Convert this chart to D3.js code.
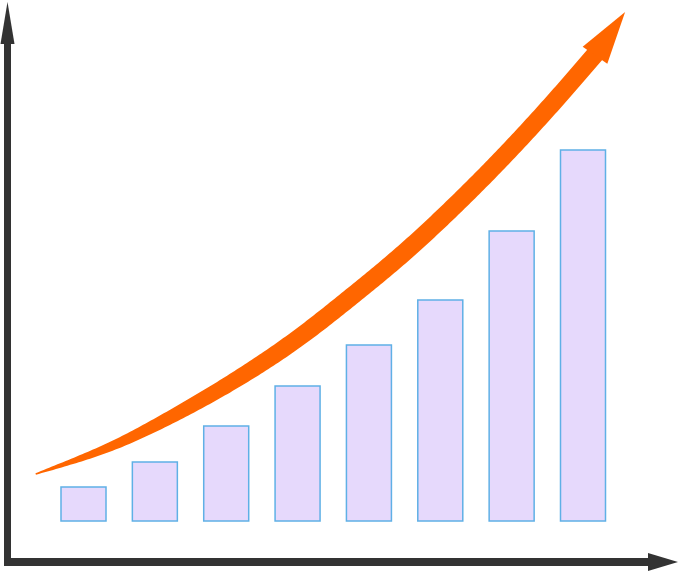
<!DOCTYPE html>
<html>
<head>
<meta charset="utf-8">
<script src="https://cdn.jsdelivr.net/npm/d3@7/dist/d3.min.js"></script>
<style>
  html, body { margin: 0; padding: 0; background: #ffffff; }
  svg { display: block; }
</style>
</head>
<body>
<svg id="chart" width="679" height="572"></svg>
<script>
// ---- data ----
const categories = [1, 2, 3, 4, 5, 6, 7, 8];
const values = [34, 59, 95, 135, 176, 221, 290, 371];
// trend arrow centreline (x in category-index units, y in value units)
const trendX = [-0.67, 0.23, 0.93, 1.63, 2.33, 3.03, 3.73, 4.44, 5.14, 5.84, 6.54, 7.2];
const trendY = [47, 70, 93, 120, 150, 184, 223, 265, 311, 361, 415, 469];
const trendTip = [7.59, 509];

// ---- layout ----
const svg = d3.select("#chart");
const x = d3.scaleLinear().domain([0, 7]).range([83.5, 583]);
const y = d3.scaleLinear().domain([0, 521]).range([521, 0]);
const barW = 45;

// bars
svg.append("g").selectAll("rect")
  .data(categories)
  .join("rect")
  .attr("x", (d, i) => x(i) - barW / 2)
  .attr("y", (d, i) => y(values[i]))
  .attr("width", barW)
  .attr("height", (d, i) => y(0) - y(values[i]))
  .attr("fill", "#e6d9fc")
  .attr("stroke", "#5fb0e6")
  .attr("stroke-width", 1.5);

// axes
const axisColor = "#333333";
const ax = svg.append("g");
ax.append("rect").attr("x", 4).attr("y", 40).attr("width", 7).attr("height", 526).attr("fill", axisColor);
ax.append("path").attr("d", "M7.5,2 L14.5,44 L0.5,44 Z").attr("fill", axisColor);
ax.append("rect").attr("x", 4).attr("y", 558).attr("width", 648).attr("height", 8).attr("fill", axisColor);
ax.append("path").attr("d", "M678,562 L648,553 L648,571 Z").attr("fill", axisColor);

// trend arrow
const pts = trendX.map((t, i) => [x(t), y(trendY[i])]);
const lineGen = d3.line().curve(d3.curveNatural);
const tmp = svg.append("path").attr("d", lineGen(pts)).attr("fill", "none").attr("stroke", "none");
const node = tmp.node();
const L = node.getTotalLength();
const N = 240;
const left = [], right = [];
for (let k = 0; k <= N; k++) {
  const t = k / N;
  const p = node.getPointAtLength(t * L);
  const p2 = node.getPointAtLength(Math.min(L, t * L + 0.5));
  const p1 = node.getPointAtLength(Math.max(0, t * L - 0.5));
  let dx = p2.x - p1.x, dy = p2.y - p1.y;
  const len = Math.hypot(dx, dy) || 1;
  dx /= len; dy /= len;
  const s = Math.min(1, t / 0.6);
  const w = 1.5 + 16.5 * (1 - Math.pow(1 - s, 3));
  left.push([p.x - dy * w / 2, p.y + dx * w / 2]);
  right.push([p.x + dy * w / 2, p.y - dx * w / 2]);
}
tmp.remove();
const shaft = left.concat(right.reverse());
svg.append("path")
  .attr("d", "M" + shaft.map(p => p.join(",")).join("L") + "Z")
  .attr("fill", "#ff6600");

// head
const base = pts[pts.length - 1];
const tip = [x(trendTip[0]), y(trendTip[1])];
let hx = tip[0] - base[0], hy = tip[1] - base[1];
const hl = Math.hypot(hx, hy);
hx /= hl; hy /= hl;
const hw = 15;
const b1 = [base[0] - hy * hw - hx * 4, base[1] + hx * hw - hy * 4];
const b2 = [base[0] + hy * hw - hx * 4, base[1] - hx * hw - hy * 4];
svg.append("path")
  .attr("d", `M${tip[0]},${tip[1]} L${b1[0]},${b1[1]} L${b2[0]},${b2[1]} Z`)
  .attr("fill", "#ff6600");
</script>
</body>
</html>
